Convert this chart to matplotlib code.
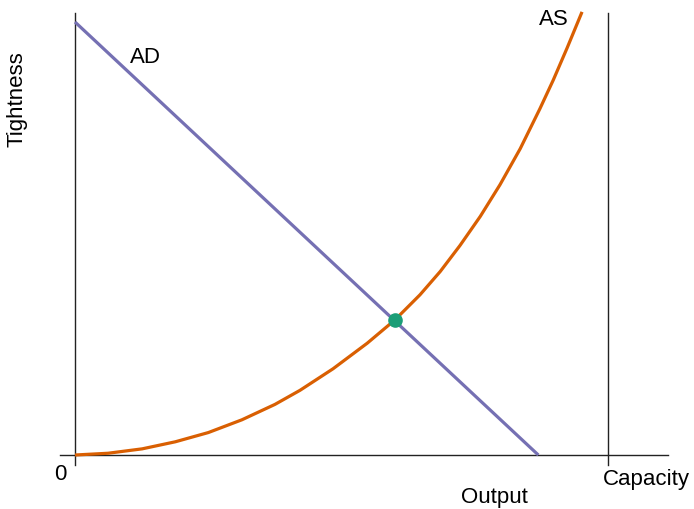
import matplotlib.pyplot as plt

# Output measured in units where capacity = 10, tightness in matching units
as_x = [0, 0.62, 1.26, 1.88, 2.50, 3.13, 3.75, 4.22, 4.84, 5.48, 6.00,
        6.47, 6.85, 7.22, 7.60, 7.97, 8.35, 8.72, 8.97, 9.23, 9.51]
as_y = [0, 0.04, 0.14, 0.30, 0.51, 0.80, 1.15, 1.47, 1.96, 2.54, 3.07,
        3.64, 4.17, 4.76, 5.42, 6.14, 6.96, 7.87, 8.52, 9.25, 10.07]
ad_x = [0, 8.69]
ad_y = [9.84, 0]
eq_x, eq_y = 6.0, 3.06
capacity = 10

plt.rcParams['font.family'] = ['Liberation Sans', 'DejaVu Sans']

fig = plt.figure(figsize=(6.94, 5.09), dpi=100)
ax = fig.add_axes([0, 0, 1, 1])
ax.set_xlim(-1.407, 11.61)
ax.set_ylim(-1.227, 10.34)
ax.axis('off')

# axes drawn by hand
ax.plot([-0.28, 11.13], [0, 0], color='#222222', lw=1.0)
ax.plot([0, 0], [-0.23, 10.05], color='#222222', lw=1.0)
ax.plot([capacity, capacity], [-0.23, 10.05], color='#222222', lw=1.0)

ax.plot(ad_x, ad_y, color='#7570b3', lw=2.3, solid_capstyle='butt')
ax.plot(as_x, as_y, color='#d95f02', lw=2.3, solid_capstyle='butt',
        solid_joinstyle='round')
ax.scatter([eq_x], [eq_y], s=90, color='#1b9e77', zorder=5)

fs = 16
ax.text(1.33, 8.91, 'AD', fontsize=fs, ha='center', va='baseline')
ax.text(8.99, 9.77, 'AS', fontsize=fs, ha='center', va='baseline')
ax.text(-0.28, -0.57, '0', fontsize=fs, ha='center', va='baseline')
ax.text(10.71, -0.68, 'Capacity', fontsize=fs, ha='center', va='baseline')
ax.text(7.87, -1.09, 'Output', fontsize=fs, ha='center', va='baseline')
ax.text(-1.09, 8.09, 'Tightness', fontsize=fs, ha='center', va='center', rotation=90)

fig.savefig('out.png', dpi=100)
